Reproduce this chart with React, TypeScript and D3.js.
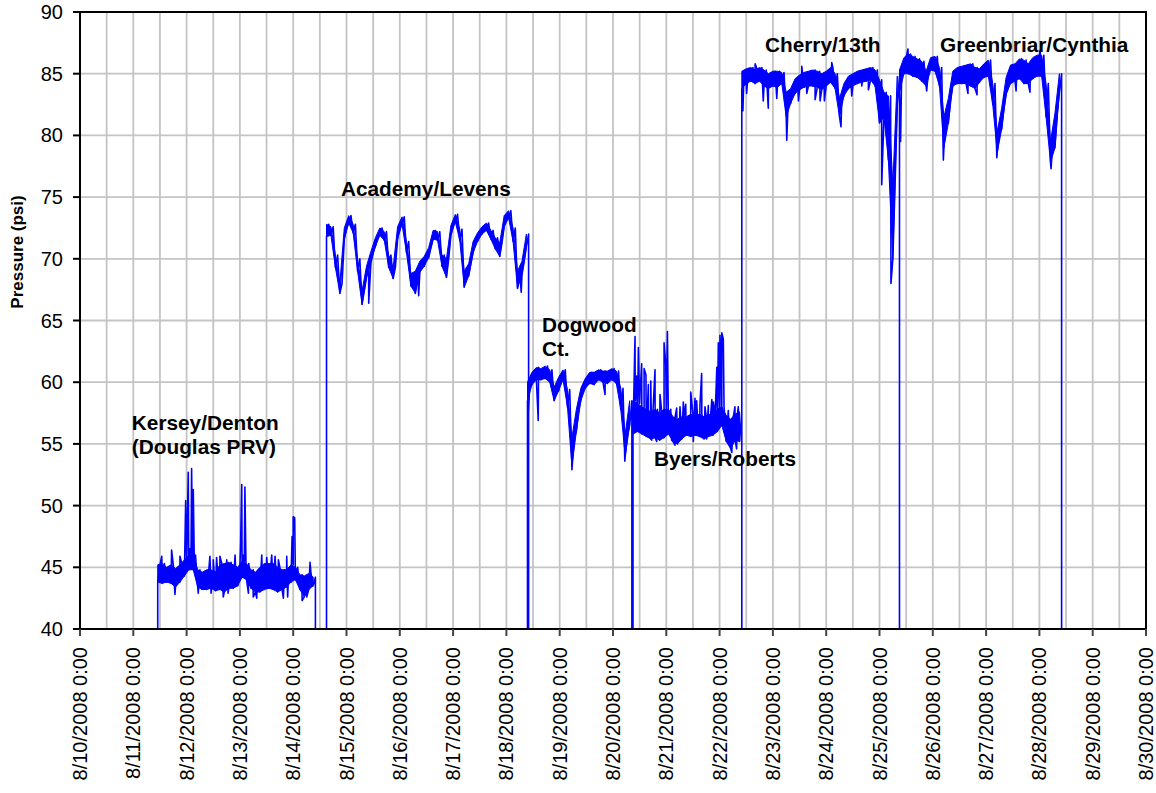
import React from 'react';
import * as d3 from 'd3';

// ---------- data ----------
const domainStart = '2008-08-10T00:00';
const domainEnd = '2008-08-30T00:00';
const yTicks = [40, 45, 50, 55, 60, 65, 70, 75, 80, 85, 90];
const binHours = 2; // each hi/lo pair is the dense core band of a 2-hour bin
const offValue = 0; // logger reading while disconnected

const kerseyStart = '2008-08-11T11:00';
const kerseyHi = [45.2, 45.3, 45.0, 45.2, 44.9, 45.2, 45.6, 46.0, 46.0, 44.8, 44.6, 44.8, 44.8, 44.6, 45.2, 45.3, 45.4, 45.2, 45.0, 45.5, 45.3, 44.8, 44.6, 45.0, 45.3, 45.3, 45.3, 45.0, 44.8, 44.8, 45.2, 45.0, 44.4, 44.3, 44.5, 44.2];
const kerseyLo = [43.8, 43.7, 43.8, 43.7, 43.4, 43.8, 44.3, 44.8, 44.8, 43.4, 43.2, 43.2, 43.3, 43.1, 43.2, 43.0, 43.3, 43.3, 43.5, 44.2, 44.0, 43.3, 43.0, 43.0, 43.2, 43.3, 43.2, 43.0, 43.2, 43.4, 43.8, 44.0, 43.2, 42.6, 43.2, 43.5];
const kerseySpikes: [string, number][] = [
  ['2008-08-11T12:50', 45.9], ['2008-08-11T17:15', 46.4], ['2008-08-11T18:45', 42.8], ['2008-08-11T21:00', 45.9],
  ['2008-08-11T23:35', 50.4], ['2008-08-12T00:05', 46.0], ['2008-08-12T00:45', 52.7], ['2008-08-12T01:25', 46.5],
  ['2008-08-12T02:15', 53.0], ['2008-08-12T02:40', 46.5], ['2008-08-12T03:00', 51.3], ['2008-08-12T03:30', 45.0],
  ['2008-08-12T05:15', 42.9], ['2008-08-12T10:30', 45.9], ['2008-08-12T11:00', 42.9], ['2008-08-12T12:00', 45.6],
  ['2008-08-12T13:30', 45.8], ['2008-08-12T15:00', 45.9], ['2008-08-12T16:30', 42.6], ['2008-08-12T18:05', 45.6],
  ['2008-08-12T18:40', 42.9], ['2008-08-12T21:50', 46.0],
  ['2008-08-13T00:20', 47.0], ['2008-08-13T00:50', 51.7], ['2008-08-13T01:30', 46.0], ['2008-08-13T02:15', 51.5], ['2008-08-13T02:45', 45.0],
  ['2008-08-13T03:50', 42.9], ['2008-08-13T06:00', 42.6], ['2008-08-13T07:35', 42.5], ['2008-08-13T09:50', 46.0],
  ['2008-08-13T12:05', 45.8], ['2008-08-13T14:20', 46.0], ['2008-08-13T15:50', 45.9], ['2008-08-13T17:20', 45.6],
  ['2008-08-13T19:35', 42.5], ['2008-08-13T21:05', 45.9], ['2008-08-13T21:30', 42.6],
  ['2008-08-13T23:30', 47.5], ['2008-08-14T00:00', 49.1], ['2008-08-14T00:40', 49.0], ['2008-08-14T01:10', 44.5],
  ['2008-08-14T04:00', 42.3], ['2008-08-14T06:05', 42.6], ['2008-08-14T07:35', 45.4],
];

const academyStart = '2008-08-14T15:00';
const academyHi = [72.8, 72.6, 70.3, 68.0, 72.5, 73.5, 72.8, 70.0, 67.4, 69.4, 70.6, 71.7, 72.5, 72.2, 70.3, 69.3, 72.6, 73.4, 71.4, 68.8, 69.0, 69.8, 70.2, 70.9, 72.3, 72.2, 70.3, 70.0, 72.7, 73.6, 72.4, 69.0, 69.6, 71.4, 72.1, 72.6, 72.9, 72.3, 71.7, 71.3, 73.5, 73.9, 72.5, 69.0, 69.8, 72.0];
const academyLo = [71.8, 71.9, 69.3, 67.2, 71.6, 72.9, 72.1, 69.0, 66.3, 68.5, 69.7, 71.0, 71.9, 71.5, 69.3, 68.4, 71.6, 72.8, 70.5, 67.8, 67.2, 68.9, 69.4, 70.1, 71.6, 71.5, 69.4, 68.5, 71.9, 73.0, 71.5, 67.7, 68.6, 70.5, 71.4, 72.0, 72.3, 71.6, 70.8, 70.2, 72.6, 73.3, 71.4, 67.6, 68.7, 71.0];
const academySpikes: [string, number][] = [
  ['2008-08-15T10:00', 66.4], ['2008-08-16T08:30', 67.0], ['2008-08-18T06:40', 67.3],
];

const dogwoodStart = '2008-08-18T09:30';
const dogwoodHi = [60.0, 60.8, 61.2, 61.1, 61.3, 61.0, 59.6, 60.4, 61.0, 59.4, 55.5, 57.8, 59.5, 60.3, 60.8, 60.8, 61.0, 60.9, 60.9, 61.1, 60.9, 59.5, 55.8, 58.5];
const dogwoodLo = [58.5, 59.8, 60.2, 60.2, 60.3, 60.0, 58.5, 59.3, 60.2, 58.0, 53.2, 56.0, 58.5, 59.5, 59.9, 59.8, 60.2, 60.0, 59.9, 60.2, 59.9, 57.8, 54.0, 56.5];
const dogwoodSpikes: [string, number][] = [
  ['2008-08-18T10:00', 57.5], ['2008-08-18T14:20', 56.9], ['2008-08-19T05:30', 52.9],
  ['2008-08-19T20:25', 59.0], ['2008-08-20T05:20', 53.6],
];

const byersStart = '2008-08-20T09:00';
const byersHi = [58.5, 58.3, 58.0, 57.8, 57.6, 57.8, 57.5, 57.8, 57.8, 57.2, 57.0, 57.2, 57.2, 57.4, 57.3, 57.4, 57.2, 57.4, 57.3, 57.8, 58.0, 57.3, 57.0, 57.4, 57.6];
const byersLo = [55.8, 56.0, 55.8, 55.6, 55.4, 55.5, 55.3, 55.5, 55.8, 55.2, 55.0, 55.4, 55.7, 55.6, 55.7, 55.6, 55.4, 55.6, 55.7, 56.0, 56.5, 55.2, 54.6, 55.3, 55.2];
const byersSpikes: [string, number][] = [
  ['2008-08-20T09:55', 63.7], ['2008-08-20T10:40', 60.5], ['2008-08-20T11:25', 62.8], ['2008-08-20T12:10', 59.1],
  ['2008-08-20T12:55', 61.5], ['2008-08-20T14:00', 61.1], ['2008-08-20T14:50', 60.6], ['2008-08-20T15:55', 59.8],
  ['2008-08-20T17:00', 60.1], ['2008-08-20T17:25', 55.3], ['2008-08-20T18:55', 61.0], ['2008-08-20T19:40', 55.2],
  ['2008-08-20T21:10', 59.0], ['2008-08-20T23:00', 63.2], ['2008-08-20T23:45', 61.5], ['2008-08-21T00:30', 64.1],
  ['2008-08-21T02:25', 55.3], ['2008-08-21T03:55', 54.9], ['2008-08-21T04:40', 57.9], ['2008-08-21T06:10', 58.0],
  ['2008-08-21T07:40', 58.4], ['2008-08-21T08:45', 58.2], ['2008-08-21T11:00', 59.2], ['2008-08-21T12:10', 55.2],
  ['2008-08-21T12:55', 58.7], ['2008-08-21T13:40', 58.5], ['2008-08-21T15:10', 58.2], ['2008-08-21T15:55', 60.7],
  ['2008-08-21T17:25', 58.0], ['2008-08-21T18:10', 55.4], ['2008-08-21T18:55', 58.1], ['2008-08-21T20:30', 58.6],
  ['2008-08-21T21:10', 58.4], ['2008-08-21T22:45', 61.2], ['2008-08-21T23:25', 63.2], ['2008-08-22T00:10', 63.8],
  ['2008-08-22T00:35', 62.0], ['2008-08-22T01:00', 64.0], ['2008-08-22T01:40', 63.5], ['2008-08-22T03:55', 57.7],
  ['2008-08-22T05:30', 54.3], ['2008-08-22T06:55', 58.0], ['2008-08-22T07:40', 54.6], ['2008-08-22T08:25', 58.0],
];

const cherryStart = '2008-08-22T10:00';
const cherryHi = [85.2, 85.4, 85.5, 85.3, 85.5, 85.3, 85.0, 85.2, 85.2, 85.1, 83.5, 83.8, 84.6, 84.9, 85.1, 85.2, 85.3, 85.2, 85.0, 85.2, 85.5, 85.0, 83.0, 84.2, 84.8, 85.0, 85.2, 85.3, 85.4, 85.5, 85.3, 84.5, 83.5, 83.2, 76.0, 84.8];
const cherryLo = [83.8, 84.2, 84.4, 84.2, 84.4, 84.0, 83.8, 84.0, 83.9, 84.2, 81.5, 82.6, 83.4, 83.7, 83.9, 84.0, 84.0, 83.9, 83.7, 84.0, 84.3, 83.8, 81.5, 83.2, 83.8, 84.0, 84.2, 84.3, 84.4, 84.5, 84.0, 81.0, 81.5, 78.0, 70.0, 82.5];
const cherrySpikes: [string, number][] = [
  ['2008-08-22T10:30', 82.0], ['2008-08-22T12:10', 83.4], ['2008-08-22T16:00', 85.8], ['2008-08-22T19:40', 82.8],
  ['2008-08-22T21:55', 82.2], ['2008-08-23T01:45', 83.0], ['2008-08-23T06:15', 79.6], ['2008-08-23T11:30', 82.8],
  ['2008-08-23T13:00', 85.6], ['2008-08-23T15:15', 83.4], ['2008-08-23T19:00', 82.9], ['2008-08-23T21:15', 82.8],
  ['2008-08-23T23:10', 82.8], ['2008-08-24T02:30', 85.9], ['2008-08-24T06:40', 80.7], ['2008-08-24T09:15', 83.7],
  ['2008-08-24T11:30', 83.2], ['2008-08-24T16:00', 84.0], ['2008-08-24T19:00', 83.7],
  ['2008-08-25T01:00', 76.0], ['2008-08-25T05:10', 68.0],
];

const greenStart = '2008-08-25T09:00';
const greenHi = [85.3, 86.3, 86.6, 86.4, 86.2, 86.0, 85.2, 86.3, 86.4, 85.5, 81.5, 83.0, 85.2, 85.5, 85.6, 85.7, 85.8, 85.5, 85.4, 85.8, 86.1, 84.2, 80.3, 82.2, 84.7, 85.7, 85.8, 86.2, 86.1, 85.8, 86.3, 86.5, 86.5, 84.2, 79.5, 81.8, 85.0];
const greenLo = [83.5, 85.0, 85.0, 84.8, 84.7, 84.4, 84.0, 85.3, 85.2, 84.0, 79.0, 81.0, 84.0, 84.2, 84.2, 84.2, 84.0, 83.8, 84.3, 84.7, 84.8, 82.5, 78.6, 80.5, 83.3, 84.2, 84.4, 84.6, 84.2, 84.2, 84.6, 84.8, 84.8, 81.5, 77.8, 79.0, 83.5];
const greenSpikes: [string, number][] = [
  ['2008-08-25T09:30', 79.5], ['2008-08-25T12:50', 87.0], ['2008-08-25T21:15', 83.6], ['2008-08-26T04:45', 78.0],
  ['2008-08-26T15:50', 83.4], ['2008-08-26T19:55', 83.3], ['2008-08-27T04:50', 78.2], ['2008-08-27T13:30', 83.6],
  ['2008-08-27T19:45', 83.5], ['2008-08-28T00:20', 86.9], ['2008-08-28T05:15', 77.3],
];

const segments = [
  { start: kerseyStart, hi: kerseyHi, lo: kerseyLo, spikes: kerseySpikes },
  { start: academyStart, hi: academyHi, lo: academyLo, spikes: academySpikes },
  { start: dogwoodStart, hi: dogwoodHi, lo: dogwoodLo, spikes: dogwoodSpikes },
  { start: byersStart, hi: byersHi, lo: byersLo, spikes: byersSpikes },
  { start: cherryStart, hi: cherryHi, lo: cherryLo, spikes: cherrySpikes },
  { start: greenStart, hi: greenHi, lo: greenLo, spikes: greenSpikes },
];

// site labels anchored in data space (time, psi) at text baseline start
const siteLabels = [
  { lines: ['Kersey/Denton', '(Douglas PRV)'], at: '2008-08-10T23:20', psi: 56.1 },
  { lines: ['Academy/Levens'], at: '2008-08-14T21:30', psi: 75.1 },
  { lines: ['Dogwood', 'Ct.'], at: '2008-08-18T16:00', psi: 64.1 },
  { lines: ['Byers/Roberts'], at: '2008-08-20T18:25', psi: 53.2 },
  { lines: ['Cherry/13th'], at: '2008-08-22T20:25', psi: 86.75 },
  { lines: ['Greenbriar/Cynthia'], at: '2008-08-26T03:15', psi: 86.75 },
];

// ---------- layout ----------
const W = 1156;
const H = 793;
const plot = { left: 80, right: 1146, top: 12, bottom: 629 };
const FONT = "'Liberation Sans', Arial, sans-serif";
const BLUE = '#0000ff';

const parse = d3.timeParse('%Y-%m-%dT%H:%M');
const fmt = d3.timeFormat('%-m/%-d/%Y %-H:%M');

export default function App() {
  const x = d3.scaleTime().domain([parse(domainStart)!, parse(domainEnd)!]).range([plot.left, plot.right]);
  const y = d3.scaleLinear().domain([40, 90]).range([plot.bottom, plot.top]);

  const dayTicks = d3.timeDay.range(parse(domainStart)!, d3.timeDay.offset(parse(domainEnd)!, 1));
  const halfDayGrid = d3.timeHour.every(12)!.range(parse(domainStart)!, d3.timeHour.offset(parse(domainEnd)!, 1));

  const pts: [Date, number][] = [];
  const areas: string[] = [];
  const area = d3.area<{ t: Date; hi: number; lo: number }>()
    .x((d) => x(d.t))
    .y0((d) => y(d.lo))
    .y1((d) => y(d.hi));
  segments.forEach((s) => {
    const t0 = parse(s.start)!;
    const bins = s.hi.map((h, i) => ({ t: d3.timeHour.offset(t0, i * binHours), hi: h, lo: s.lo[i] }));
    const segPts: [Date, number][] = [];
    bins.forEach((b) => {
      segPts.push([b.t, b.lo]);
      segPts.push([d3.timeHour.offset(b.t, binHours / 2), b.hi]);
    });
    s.spikes.forEach(([t, v]) => segPts.push([parse(t)!, v]));
    segPts.sort((a, b) => +a[0] - +b[0]);
    pts.push([t0, offValue]);
    segPts.forEach((p) => pts.push(p));
    pts.push([segPts[segPts.length - 1][0], offValue]);
    areas.push(area(bins) || '');
  });
  const line = d3.line<[Date, number]>().x((d) => x(d[0])).y((d) => y(d[1]));

  return (
    <svg width={W} height={H} style={{ position: 'absolute', left: 0, top: 0, background: '#fff' }} fontFamily={FONT}>
      <defs>
        <clipPath id="plotClip">
          <rect x={plot.left} y={plot.top} width={plot.right - plot.left} height={plot.bottom - plot.top} />
        </clipPath>
      </defs>
      <rect x={0} y={0} width={W} height={H} fill="#fff" />
      <g stroke="#c4c4c4" strokeWidth={1.8}>
        {halfDayGrid.map((d, i) => (
          <line key={'vg' + i} x1={x(d)} x2={x(d)} y1={plot.top} y2={plot.bottom} />
        ))}
        {yTicks.map((v) => (
          <line key={'hg' + v} x1={plot.left} x2={plot.right} y1={y(v)} y2={y(v)} />
        ))}
      </g>
      <g clipPath="url(#plotClip)">
        {areas.map((a, i) => (
          <path key={'a' + i} d={a} fill={BLUE} stroke={BLUE} strokeWidth={1} />
        ))}
        <path d={line(pts) || ''} fill="none" stroke={BLUE} strokeWidth={1.6} strokeLinejoin="round" />
      </g>
      <rect x={plot.left} y={plot.top} width={plot.right - plot.left} height={plot.bottom - plot.top} fill="none" stroke="#000" strokeWidth={2} />
      <g>
        {yTicks.map((v) => (
          <g key={'yt' + v}>
            <line x1={plot.left - 7} x2={plot.left} y1={y(v)} y2={y(v)} stroke="#000" strokeWidth={2} />
            <text x={63} y={y(v)} dy="0.35em" textAnchor="end" fontSize={20} fill="#000">{v}</text>
          </g>
        ))}
      </g>
      <g>
        {dayTicks.map((d, i) => (
          <g key={'xt' + i}>
            <line x1={x(d)} x2={x(d)} y1={plot.bottom} y2={plot.bottom + 7} stroke="#444" strokeWidth={2} />
            <text transform={`translate(${x(d)},${plot.bottom + 18}) rotate(-90)`} dy="0.35em" textAnchor="end" fontSize={20} fill="#000">{fmt(d)}</text>
          </g>
        ))}
      </g>
      <text transform="translate(23,252) rotate(-90)" textAnchor="middle" fontSize={17} fontWeight="bold" fill="#000">Pressure (psi)</text>
      {siteLabels.map((s, i) => (
        <text key={'sl' + i} x={x(parse(s.at)!)} y={y(s.psi)} fontSize={20.8} fontWeight="bold" fill="#000">
          {s.lines.map((l, j) => (
            <tspan key={j} x={x(parse(s.at)!)} dy={j === 0 ? 0 : 24}>{l}</tspan>
          ))}
        </text>
      ))}
    </svg>
  );
}
